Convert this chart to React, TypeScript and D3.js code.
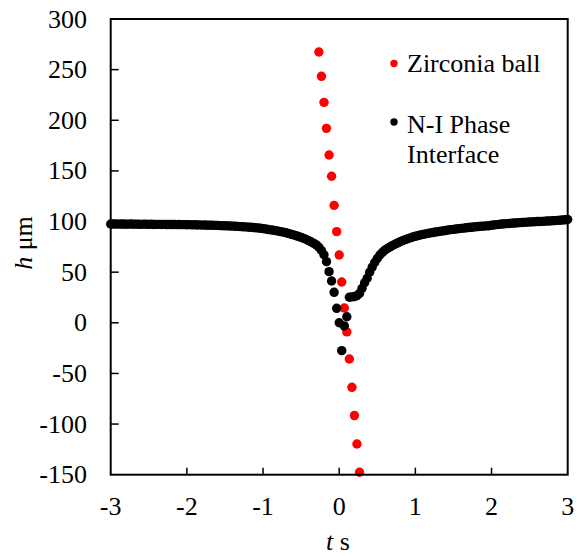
import React, { useEffect, useRef } from 'react'
import * as d3 from 'd3'

// zirconia ball, one point per video frame (30 fps)
const ballTimes = [-0.267, -0.233, -0.2, -0.167, -0.133, -0.1, -0.067, -0.033, 0, 0.033, 0.067, 0.1, 0.133, 0.167, 0.2, 0.233, 0.267]
const ballHeights = [267.4, 243.4, 217.7, 192, 165.7, 144.7, 116, 90, 67, 40.3, 14.6, -9, -35.7, -63.7, -91.6, -119.7, -147.6]

// N-I phase interface, frames from t = -3 s to t = 3 s
const frameRate = 30
const interfaceStart = -3
const interfaceHeights = [
    97.6, 97.5, 97.6, 97.4, 97.5, 97.5, 97.3, 97.4, 97.5, 97.3,
    97.4, 97.3, 97.2, 97.4, 97.3, 97.2, 97.3, 97.1, 97.2, 97.2,
    97.1, 97.2, 97.0, 97.1, 97.0, 97.1, 96.9, 97.0, 96.9, 96.9,
    96.8, 96.9, 96.7, 96.8, 96.6, 96.7, 96.5, 96.6, 96.4, 96.4,
    96.3, 96.2, 96.2, 96.0, 95.9, 95.9, 95.7, 95.6, 95.5, 95.3,
    95.2, 95.0, 94.9, 94.7, 94.5, 94.3, 94.1, 93.9, 93.6, 93.4,
    93.0, 92.6, 92.2, 91.8, 91.4, 91.0, 90.5, 90.0, 89.5, 88.9,
    88.2, 87.5, 86.8, 86.0, 85.2, 84.4, 83.4, 82.3, 81.1, 79.8,
    78.4, 76.9, 74.6, 71.4, 67.2, 60.4, 50.5, 41.3, 30.1, 14.3,
    0.1, -27.5, -3.1, 6.0, 25.2, 25.6, 25.9, 26.8, 29.0, 34.0,
    39.5, 44.0, 50.0, 55.0, 59.5, 63.5, 67.0, 69.5, 71.8, 73.4,
    74.9, 76.3, 77.6, 78.8, 80.0, 81.1, 82.1, 83.0, 83.9, 84.7,
    85.4, 86.1, 86.7, 87.3, 87.8, 88.3, 88.8, 89.2, 89.6, 90.0,
    90.4, 90.8, 91.2, 91.6, 92.0, 92.3, 92.6, 92.9, 93.2, 93.5,
    93.8, 94.1, 94.3, 94.6, 94.8, 95.1, 95.3, 95.5, 95.7, 95.9,
    96.3, 96.6, 96.9, 97.2, 97.5, 97.7, 97.9, 98.1, 98.3, 98.5,
    98.7, 98.9, 99.0, 99.2, 99.4, 99.5, 99.7, 99.8, 100.0, 100.1,
    100.2, 100.3, 100.5, 100.6, 100.8, 100.9, 101.1, 101.3, 101.5, 101.7,
    102.0,
]

const xTicks = [-3, -2, -1, 0, 1, 2, 3]
const yTicks = [-150, -100, -50, 0, 50, 100, 150, 200, 250, 300]

const FONT = '"Liberation Serif", "Times New Roman", serif'

export default function App() {
    const ref = useRef<SVGSVGElement>(null)

    useEffect(() => {
        const svg = d3.select(ref.current)
        svg.selectAll('*').remove()

        const x = d3.scaleLinear().domain([-3, 3]).range([110.7, 567.7])
        const y = d3.scaleLinear().domain([-150, 300]).range([474.7, 19])

        const ball = ballTimes.map((t, i) => ({ t, h: ballHeights[i] }))
        const iface = interfaceHeights.map((h, i) => ({ t: interfaceStart + i / frameRate, h }))

        // red first, black drawn over it
        svg.append('g')
            .selectAll('circle')
            .data(ball)
            .join('circle')
            .attr('cx', d => x(d.t))
            .attr('cy', d => y(d.h))
            .attr('r', 4.7)
            .attr('fill', '#ff0000')

        svg.append('g')
            .selectAll('circle')
            .data(iface)
            .join('circle')
            .attr('cx', d => x(d.t))
            .attr('cy', d => y(d.h))
            .attr('r', 4.7)
            .attr('fill', '#000')

        // frame
        svg.append('rect')
            .attr('x', x(-3))
            .attr('y', y(300))
            .attr('width', x(3) - x(-3))
            .attr('height', y(-150) - y(300))
            .attr('fill', 'none')
            .attr('stroke', '#000')
            .attr('stroke-width', 2)

        // ticks inside
        svg.append('g')
            .selectAll('line')
            .data(xTicks.slice(1, -1))
            .join('line')
            .attr('x1', d => x(d)).attr('x2', d => x(d))
            .attr('y1', y(-150)).attr('y2', y(-150) - 7)
            .attr('stroke', '#000').attr('stroke-width', 1.5)

        svg.append('g')
            .selectAll('line')
            .data(yTicks.slice(1, -1))
            .join('line')
            .attr('x1', x(-3)).attr('x2', x(-3) + 8)
            .attr('y1', d => y(d)).attr('y2', d => y(d))
            .attr('stroke', '#000').attr('stroke-width', 1.5)

        // tick labels
        svg.append('g')
            .selectAll('text')
            .data(xTicks)
            .join('text')
            .attr('x', d => x(d))
            .attr('y', 515)
            .attr('text-anchor', 'middle')
            .attr('font-family', FONT)
            .attr('font-size', 26)
            .text(d => String(d))

        svg.append('g')
            .selectAll('text')
            .data(yTicks)
            .join('text')
            .attr('x', 87)
            .attr('y', d => y(d) + 8.5)
            .attr('text-anchor', 'end')
            .attr('font-family', FONT)
            .attr('font-size', 26)
            .text(d => String(d))

        // axis titles
        const xt = svg.append('text')
            .attr('x', 338)
            .attr('y', 550)
            .attr('text-anchor', 'middle')
            .attr('font-family', FONT)
            .attr('font-size', 26)
        xt.append('tspan').attr('font-style', 'italic').text('t')
        xt.append('tspan').text(' s')

        const yt = svg.append('text')
            .attr('transform', 'translate(32,243) rotate(-90)')
            .attr('text-anchor', 'middle')
            .attr('font-family', FONT)
            .attr('font-size', 26)
        yt.append('tspan').attr('font-style', 'italic').text('h')
        yt.append('tspan').text(' μm')

        // legend
        const legend = svg.append('g').attr('font-family', FONT).attr('font-size', 26)
        legend.append('circle').attr('cx', 394).attr('cy', 63.5).attr('r', 3.7).attr('fill', '#ff0000')
        legend.append('text').attr('x', 407).attr('y', 72).text('Zirconia ball')
        legend.append('circle').attr('cx', 394).attr('cy', 122).attr('r', 3.7).attr('fill', '#000')
        legend.append('text').attr('x', 407).attr('y', 133).text('N-I Phase')
        legend.append('text').attr('x', 407).attr('y', 163).text('Interface')
    }, [])

    return (
        <svg
            ref={ref}
            width={582}
            height={557}
            style={{ position: 'absolute', left: 0, top: 0, background: '#fff' }}
        />
    )
}
